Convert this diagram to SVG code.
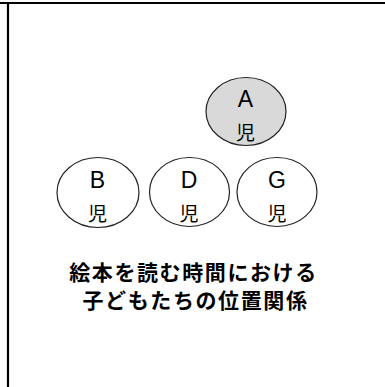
<svg xmlns="http://www.w3.org/2000/svg" width="385" height="387" viewBox="0 0 385 387">
<style>
.node ellipse{stroke:#222;stroke-width:1.2;fill:#fff}
.node.hl ellipse{fill:#d9d9d9}
.lt{font-family:"Liberation Sans","Noto Sans CJK JP",sans-serif;font-size:23px;fill:#000;text-anchor:middle}
.jt{font-family:"Noto Sans CJK JP",sans-serif;font-size:19px;fill:#000;text-anchor:middle}
.title{font-family:"Noto Sans CJK JP",sans-serif;font-size:21px;font-weight:bold;fill:#000;text-anchor:middle;letter-spacing:1.6px}
</style>
<rect width="385" height="387" fill="#fff"/>
<line x1="0" y1="3" x2="385" y2="3" stroke="#000" stroke-width="2.2"/>
<line x1="8" y1="3" x2="8" y2="387" stroke="#000" stroke-width="2.2"/>
<g id="connectors"></g>
<g id="nodeA" class="node hl">
<ellipse cx="246" cy="111.5" rx="40" ry="34"/>
<text class="lt" x="245.5" y="107">A</text>
<text class="jt" x="245.5" y="140">児</text>
</g>
<g id="nodeB" class="node">
<ellipse cx="98" cy="192.5" rx="41" ry="35"/>
<text class="lt" x="97.5" y="188">B</text>
<text class="jt" x="97.5" y="221">児</text>
</g>
<g id="nodeD" class="node">
<ellipse cx="189.5" cy="192" rx="40" ry="34.5"/>
<text class="lt" x="189" y="188">D</text>
<text class="jt" x="189" y="221">児</text>
</g>
<g id="nodeG" class="node">
<ellipse cx="277" cy="192" rx="40" ry="34.5"/>
<text class="lt" x="277" y="188">G</text>
<text class="jt" x="277" y="221">児</text>
</g>
<g id="title">
<text class="title" x="193.5" y="279.5">絵本を読む時間における</text>
<text class="title" x="195.5" y="307.5">子どもたちの位置関係</text>
</g>
</svg>
